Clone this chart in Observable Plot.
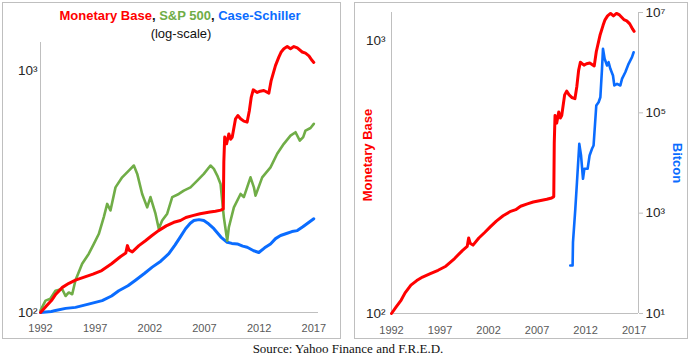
<!DOCTYPE html>
<html>
<head>
<meta charset="utf-8">
<script src="https://cdn.jsdelivr.net/npm/d3@7"></script>
<script src="https://cdn.jsdelivr.net/npm/@observablehq/plot@0.6"></script>
<style>
  body { margin: 0; background: #fff; }
  #wrap { position: relative; width: 693px; height: 357px; overflow: hidden; font-family: "Liberation Sans", Arial, sans-serif; }
  .frame { position: absolute; border: 1px solid #bfbfbf; box-sizing: border-box; }
  .abs { position: absolute; white-space: nowrap; }
  .title { font-weight: bold; font-size: 13px; line-height: 15px; text-align: center; }
  .sub { font-size: 13px; line-height: 15px; text-align: center; color: #111; }
  .vlab { font-weight: bold; font-size: 13px; line-height: 15px; }
  .caption { font-family: "Liberation Serif", "Times New Roman", serif; font-size: 13px; line-height: 15px; text-align: center; color: #111; }
</style>
</head>
<body>
<div id="wrap">
  <div class="frame" style="left:2px;top:2px;width:339px;height:337px;"></div>
  <div class="frame" style="left:354px;top:2px;width:334px;height:337px;"></div>
  <div class="abs title" style="left:0px;top:8px;width:360px;">
    <span style="color:#ff0000">Monetary Base</span><span style="color:#111">, </span><span style="color:#70ad47">S&amp;P 500</span><span style="color:#111">, </span><span style="color:#0a6cff">Case-Schiller</span>
  </div>
  <div class="abs sub" style="left:0px;top:26px;width:362px;">(log-scale)</div>
  <div class="abs vlab" style="left:367px;top:155px;color:#ff0000;transform:translate(-50%,-50%) rotate(-90deg);">Monetary Base</div>
  <div class="abs vlab" style="left:677px;top:163px;color:#0a6cff;transform:translate(-50%,-50%) rotate(90deg);">Bitcon</div>
  <div class="abs caption" style="left:0px;top:341px;width:696px;">Source: Yahoo Finance and F.R.E.D.</div>
</div>
<script>
// ---- Data (indexed) ----
const mbYear  = [1992.0,1992.5,1993.0,1993.4,1994.0,1994.6,1995.2,1996.0,1996.8,1997.6,1998.5,1999.3,1999.8,1999.95,2000.1,2000.4,2001.0,2001.6,2002.2,2002.8,2003.5,2004.2,2004.8,2005.3,2006.0,2006.6,2007.5,2008.0,2008.5,2008.72,2008.77,2008.85,2009.02,2009.23,2009.4,2009.54,2009.84,2010.05,2010.3,2010.6,2010.9,2011.1,2011.28,2011.46,2011.83,2012.1,2012.43,2012.89,2013.1,2013.5,2013.8,2014.0,2014.26,2014.57,2014.87,2015.18,2015.49,2015.94,2016.24,2016.55,2016.85,2017.0];
const mbValue = [100,106,112,119,127,132,136,140,144,149,159,170,176,189,181,178,189,198,208,218,228,236,240,247,252,256,260,262,265,268,420,531,498,547,520,531,632,652,632,618,612,680,777,832,812,822,827,807,909,1050,1136,1190,1230,1256,1230,1256,1240,1193,1180,1150,1100,1080];

const spYear  = [1992.0,1992.46,1992.9,1993.37,1993.98,1994.29,1994.59,1994.9,1995.2,1995.81,1996.42,1996.88,1997.33,1997.79,1998.1,1998.4,1998.86,1999.47,2000.08,2000.54,2000.85,2001.3,2001.76,2002.06,2002.52,2002.82,2003.13,2003.59,2004.05,2004.65,2005.11,2005.72,2006.34,2006.94,2007.55,2007.86,2008.17,2008.47,2008.77,2009.08,2009.23,2009.69,2010.3,2010.6,2011.21,2011.52,2011.67,2012.28,2013.04,2013.65,2014.26,2014.87,2015.33,2015.72,2016.03,2016.24,2016.7,2017.0];
const spValue = [102,112,114,123,125,117,121,119,136,159,175,192,211,248,281,264,329,362,386,405,374,309,272,300,256,222,240,256,300,309,319,329,351,374,405,392,368,340,248,198,225,272,309,300,362,329,304,362,398,453,498,538,556,513,531,565,579,602];

const csYear  = [1992.0,1993.0,1993.37,1994.3,1995.2,1996.3,1997.64,1998.5,1999.16,2000.0,2000.69,2001.5,2002.22,2003.0,2003.74,2004.3,2004.81,2005.27,2005.7,2006.03,2006.5,2006.94,2007.3,2007.86,2008.5,2009.08,2009.5,2010.0,2010.5,2010.91,2011.5,2011.97,2012.5,2013.04,2013.5,2013.96,2014.5,2015.0,2015.49,2016.0,2016.5,2017.0];
const csValue = [100,101,102,104,105,108,112,117,123,129,136,145,154,163,175,190,206,222,234,240,242,240,234,222,205,195,193,192,188,186,180,177,185,192,202,208,212,216,218,226,235,244];

const btcYear  = [2010.42,2010.66,2010.70,2010.94,2011.11,2011.35,2011.53,2011.73,2011.87,2012.21,2012.41,2012.66,2012.82,2013.10,2013.34,2013.52,2013.69,2013.79,2013.96,2014.21,2014.37,2014.55,2014.82,2014.96,2015.24,2015.58,2015.75,2016.09,2016.43,2016.78,2016.95];
const btcValue = [90.5,90.5,264,1222,4140,24110,14100,4840,7660,7660,14100,19190,22330,140000,162900,204700,754000,1889000,1194000,877000,1021000,754000,554400,350600,378700,350600,476500,645400,948400,1285000,1615000];

const xTicks = [1992, 1997, 2002, 2007, 2012, 2017];
const mbTicks = [100, 1000];
const mbTickLabels = ["10²", "10³"];
const btcTicks = [10, 1000, 100000, 10000000];
const btcTickLabels = ["10¹", "10³", "10⁵", "10⁷"];

const RED = "#ff0000", GREEN = "#70ad47", BLUE = "#0a6cff", AXIS = "#bfbfbf";

const rows = (xs, ys) => xs.map((x, i) => ({year: x, value: ys[i]}));
const mb = rows(mbYear, mbValue), sp = rows(spYear, spValue), cs = rows(csYear, csValue), btc = rows(btcYear, btcValue);

const baseStyle = {background: "transparent", overflow: "visible", fontFamily: "'Liberation Sans', Arial, sans-serif"};
const xAxis = (pad) => Plot.axisX({ticks: xTicks, tickFormat: d => String(d), tickSize: 0, tickPadding: pad, fontSize: 11, fill: "#595959", label: null});
const labelOf = (ticks, labels) => d => labels[ticks.indexOf(d)];

const wrap = document.getElementById("wrap");
function place(svg, left, top) {
  svg.style.position = "absolute";
  svg.style.left = left + "px";
  svg.style.top = top + "px";
  wrap.appendChild(svg);
}

// ---- Left panel ----
const left = Plot.plot({
  width: 345, height: 340,
  marginLeft: 40, marginRight: 27, marginTop: 42, marginBottom: 28,
  style: baseStyle,
  x: {domain: [1992, 2017.43]},
  y: {type: "log", domain: [100, 1306]},
  marks: [
    Plot.ruleX([1992], {stroke: AXIS}),
    Plot.ruleY([100], {stroke: AXIS}),
    xAxis(12),
    Plot.axisY({ticks: mbTicks, tickFormat: labelOf(mbTicks, mbTickLabels), tickSize: 0, tickPadding: 3, fontSize: 13.5, fill: "#262626", label: null}),
    Plot.line(cs, {x: "year", y: "value", stroke: BLUE, strokeWidth: 3}),
    Plot.line(sp, {x: "year", y: "value", stroke: GREEN, strokeWidth: 2.6}),
    Plot.line(mb, {x: "year", y: "value", stroke: RED, strokeWidth: 3})
  ]
});
place(left, 0, 0);

// ---- Right panel: Monetary Base (left axis) ----
const rightA = Plot.plot({
  width: 348, height: 340,
  marginLeft: 46, marginRight: 55, marginTop: 12, marginBottom: 27,
  style: baseStyle,
  x: {domain: [1992, 2017.45]},
  y: {type: "log", domain: [100, 1266]},
  marks: [
    Plot.ruleX([1992], {stroke: AXIS}),
    Plot.ruleY([100], {stroke: AXIS}),
    xAxis(13),
    Plot.axisY({ticks: mbTicks, tickFormat: labelOf(mbTicks, mbTickLabels), tickSize: 0, tickPadding: 6, fontSize: 13.5, fill: "#262626", label: null}),
    Plot.line(mb, {x: "year", y: "value", stroke: RED, strokeWidth: 3})
  ]
});
place(rightA, 345, 0);

// ---- Right panel: Bitcoin (right axis) ----
const rightB = Plot.plot({
  width: 348, height: 340,
  marginLeft: 46, marginRight: 55, marginTop: 12, marginBottom: 27,
  style: baseStyle,
  x: {domain: [1992, 2017.45], axis: null},
  y: {type: "log", domain: [10, 10000000]},
  marks: [
    Plot.ruleX([2017.45], {stroke: AXIS}),
    Plot.axisY({anchor: "right", ticks: btcTicks, tickFormat: labelOf(btcTicks, btcTickLabels), tickSize: 4, tickPadding: 3, stroke: AXIS, fontSize: 13.5, fill: "#262626", label: null}),
    Plot.line(btc, {x: "year", y: "value", stroke: BLUE, strokeWidth: 2.6})
  ]
});
place(rightB, 345, 0);
</script>
</body>
</html>
